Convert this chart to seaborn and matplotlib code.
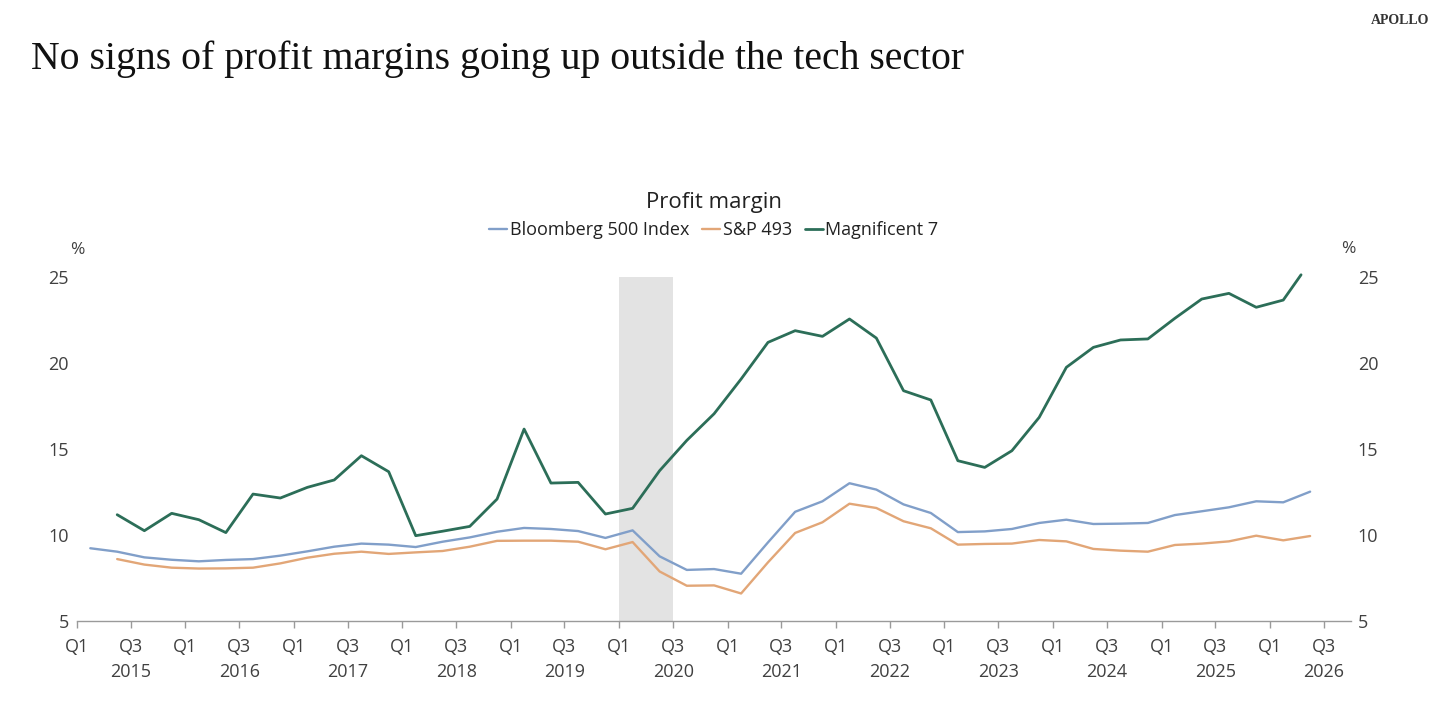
import matplotlib
matplotlib.use("Agg")
import matplotlib.pyplot as plt
import pandas as pd
import seaborn as sns

# ---------------- data ----------------
bloomberg_quarters = pd.period_range("2015Q1", "2026Q2", freq="Q")
other_quarters = pd.period_range("2015Q2", "2026Q2", freq="Q")

bloomberg_500 = [9.23, 9.03, 8.70, 8.56, 8.47, 8.55, 8.60, 8.80, 9.05, 9.32,
                 9.50, 9.44, 9.30, 9.61, 9.86, 10.19, 10.41, 10.35, 10.23, 9.83,
                 10.27, 8.76, 7.97, 8.02, 7.75, 9.57, 11.35, 11.96, 13.01, 12.64,
                 11.78, 11.28, 10.17, 10.21, 10.35, 10.70, 10.89, 10.64, 10.66, 10.70,
                 11.16, 11.38, 11.61, 11.96, 11.90, 12.52]

sp_493 = [8.60, 8.28, 8.10, 8.05, 8.06, 8.10, 8.35, 8.68, 8.91, 9.03,
          8.90, 8.99, 9.07, 9.32, 9.66, 9.67, 9.67, 9.61, 9.17, 9.59,
          7.88, 7.05, 7.07, 6.60, 8.41, 10.12, 10.74, 11.82, 11.57, 10.80,
          10.39, 9.44, 9.48, 9.50, 9.71, 9.63, 9.19, 9.09, 9.03, 9.42,
          9.50, 9.63, 9.96, 9.69, 9.94]

magnificent_7 = [11.18, 10.25, 11.26, 10.89, 10.14, 12.38, 12.15, 12.77, 13.20, 14.61,
                 13.68, 9.96, 10.22, 10.50, 12.09, 16.16, 13.02, 13.06, 11.22, 11.55,
                 13.74, 15.50, 17.05, 19.07, 21.20, 21.88, 21.55, 22.56, 21.45, 18.39,
                 17.85, 14.32, 13.93, 14.90, 16.84, 19.75, 20.91, 21.34, 21.40, 22.60,
                 23.72, 24.05, 23.24, 23.66, 25.13]
magnificent_7_last_date = "2026-04-16"

series_names = ["Bloomberg 500 Index", "S&P 493", "Magnificent 7"]
series_colors = ["#819fc9", "#e2a677", "#2c6e58"]
recession = ("2020-01-01", "2020-07-01")
y_ticks = [5, 10, 15, 20, 25]

title = "No signs of profit margins going up outside the tech sector"
subtitle = "Profit margin"
brand = "APOLLO"


def mid_dates(periods):
    return [p.start_time + (p.end_time - p.start_time) / 2 for p in periods]


blo_dates = mid_dates(bloomberg_quarters)
oth_dates = mid_dates(other_quarters)
mag_dates = oth_dates[:-1] + [pd.Timestamp(magnificent_7_last_date)]

df = pd.concat([
    pd.DataFrame({"date": blo_dates, "value": bloomberg_500, "series": series_names[0]}),
    pd.DataFrame({"date": oth_dates, "value": sp_493, "series": series_names[1]}),
    pd.DataFrame({"date": mag_dates, "value": magnificent_7, "series": series_names[2]}),
], ignore_index=True)

# ---------------- style ----------------
sns.set_theme(style="white")
plt.rcParams["font.family"] = ["Open Sans", "DejaVu Sans"]
TXT = "#404040"

fig = plt.figure(figsize=(14.52, 7.04), dpi=100)
ax = fig.add_axes([0.0530, 0.1179, 0.8774, 0.4886])

ax.axvspan(pd.Timestamp(recession[0]), pd.Timestamp(recession[1]),
           ymin=0, ymax=1, color="#e3e3e3", lw=0, zorder=0)

widths = [1.7, 1.7, 2.0]
for name, color, lw in zip(series_names, series_colors, widths):
    sns.lineplot(data=df[df["series"] == name], x="date", y="value",
                 color=color, linewidth=lw, label=name, ax=ax,
                 zorder=3, clip_on=False)

ax.set_xlim(pd.Timestamp("2015-01-01"), pd.Timestamp("2026-10-01"))
ax.set_ylim(5, 25)
ax.set_xlabel("")
ax.set_ylabel("")

# x ticks: Q1 and Q3 of every year, year under Q3
tick_dates, tick_labels = [], []
for yr in range(2015, 2027):
    tick_dates.append(pd.Timestamp(f"{yr}-01-01"))
    tick_labels.append("Q1")
    tick_dates.append(pd.Timestamp(f"{yr}-07-01"))
    tick_labels.append(f"Q3\n{yr}")
ax.set_xticks(tick_dates)
ax.set_xticklabels(tick_labels, linespacing=1.55)
ax.tick_params(axis="x", direction="out", length=5, width=1, color="#9a9a9a",
               labelsize=13, labelcolor=TXT, pad=7, bottom=True)

ax.set_yticks(y_ticks)
ax.tick_params(axis="y", length=0, labelsize=13, labelcolor=TXT, pad=6)

for s in ["left", "right", "top"]:
    ax.spines[s].set_visible(False)
ax.spines["bottom"].set_color("#9a9a9a")
ax.spines["bottom"].set_linewidth(1)

ax2 = ax.twinx()
ax2.set_ylim(5, 25)
ax2.set_yticks(y_ticks)
ax2.tick_params(axis="y", length=0, labelsize=13, labelcolor=TXT, pad=5)
for s in ["left", "right", "top", "bottom"]:
    ax2.spines[s].set_visible(False)
ax2.grid(False)
ax.grid(False)

ax.text(0.0, 1.078, "%", transform=ax.transAxes, ha="center", va="center",
        fontsize=12.5, color=TXT)
ax.text(0.998, 1.081, "%", transform=ax.transAxes, ha="center", va="center",
        fontsize=12.5, color=TXT)

ax.text(0.5, 1.218, subtitle, transform=ax.transAxes, ha="center", va="center",
        fontsize=16, color="#222222")
leg = ax.legend(loc="center", bbox_to_anchor=(0.5, 1.137), ncol=3, frameon=False,
                fontsize=13, handlelength=1.0, handletextpad=0.15,
                columnspacing=0.7, borderaxespad=0)
for t in leg.get_texts():
    t.set_color("#222222")

fig.text(31 / 1452, 1 - 69 / 704, title, ha="left", va="baseline",
         fontsize=28.6, family=["Liberation Serif", "DejaVu Serif"], color="#111111")
fig.text(1429 / 1452, 1 - 20 / 704, brand, ha="right", va="center",
         fontsize=10, family=["Liberation Serif", "DejaVu Serif"], color="#333333",
         fontweight="bold")

fig.savefig("out.png", dpi=100, facecolor="white")
